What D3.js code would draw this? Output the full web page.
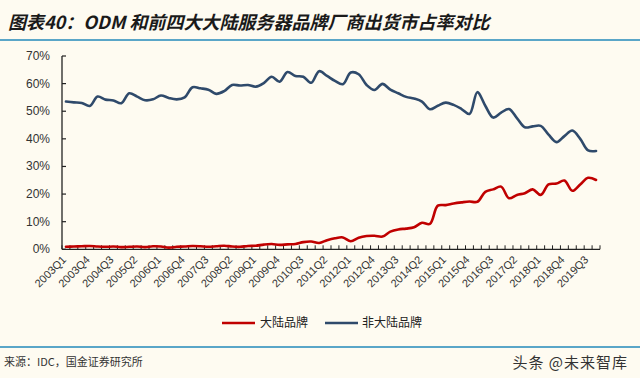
<!DOCTYPE html>
<html>
<head>
<meta charset="utf-8">
<script src="https://cdn.jsdelivr.net/npm/d3@7"></script>
<style>
body { margin: 0; background: #fefbf1; }
svg { display: block; font-family: 'Liberation Sans', Arial, sans-serif; }
</style>
</head>
<body>
<div id="chart"></div>
<script>
// quarters 2003Q1 .. 2019Q4
var quarters = []
for (var yr = 2003; yr <= 2019; yr++) for (var q = 1; q <= 4; q++) quarters.push(yr + 'Q' + q)

var mainland = [0.9,1.0,1.1,1.2,1.0,0.9,1.0,0.8,0.9,1.0,0.8,1.1,1.0,0.6,0.9,1.0,
	1.2,1.1,0.9,1.1,1.3,1.0,0.9,1.2,1.3,1.7,1.9,1.6,1.8,1.9,2.6,2.8,
	2.3,3.3,4.0,4.3,2.9,4.2,4.8,4.9,4.6,6.4,7.2,7.5,8.0,9.6,9.2,15.8,
	16.0,16.6,17.0,17.3,17.2,20.8,21.7,22.7,18.5,19.7,20.3,21.7,19.7,23.5,23.8,24.9,
	21.2,23.5,25.9,25.1]
var nonMainland = [53.5,53.2,53.0,51.9,55.3,54.2,53.9,52.9,56.5,55.3,54.0,54.3,55.7,54.8,54.3,55.0,
	58.7,58.3,57.8,56.3,57.3,59.5,59.3,59.5,58.9,60.2,62.5,60.7,64.2,62.8,62.5,60.3,
	64.5,62.8,61.0,59.8,64.0,63.4,59.5,57.7,59.9,57.8,56.5,55.2,54.6,53.5,50.7,52.0,
	53.1,52.3,50.8,49.0,56.9,52.0,47.7,49.5,50.8,47.5,44.2,44.5,44.7,41.5,38.8,41.0,
	43.0,40.0,35.8,35.6]
var yTicks = [0,10,20,30,40,50,60,70]
var seriesNames = ['大陆品牌','非大陆品牌']
var seriesColors = ['#c00000','#2f4a6b']

var W = 640, H = 378
var svg = d3.select('#chart').append('svg').attr('width', W).attr('height', H)
svg.append('rect').attr('width', W).attr('height', H).attr('fill', '#fefbf1')

// title
svg.append('text').attr('x', 8).attr('y', 29)
	.style('font-family', "'Noto Sans CJK SC', sans-serif")
	.style('font-size', '18px').style('font-weight', 'bold').style('font-style', 'italic')
	.attr('fill', '#1a1a1a')
	.text('图表40：ODM 和前四大大陆服务器品牌厂商出货市占率对比')
svg.append('line').attr('x1', 0).attr('x2', W).attr('y1', 40).attr('y2', 40)
	.attr('stroke', '#5aa6c8').attr('stroke-width', 2)

var x = d3.scaleBand().domain(quarters).range([62, 600])
var y = d3.scaleLinear().domain([0, 70]).range([249.3, 56])
var cx = d => x(d) + x.bandwidth() / 2

// y axis
var ya = svg.append('g')
ya.append('line').attr('x1', 62).attr('x2', 62).attr('y1', y(0)).attr('y2', y(70))
	.attr('stroke', '#222').attr('stroke-width', 1.3)
ya.selectAll('line.t').data(yTicks).enter().append('line').attr('class', 't')
	.attr('x1', 62).attr('x2', 66).attr('y1', d => y(d)).attr('y2', d => y(d))
	.attr('stroke', '#222').attr('stroke-width', 1.2)
ya.selectAll('text').data(yTicks).enter().append('text')
	.attr('x', 50).attr('y', d => y(d) + 4).attr('text-anchor', 'end')
	.style('font-size', '12px').attr('fill', '#333')
	.text(d => d + '%')

// x axis
var xa = svg.append('g')
xa.append('line').attr('x1', 62).attr('x2', 600).attr('y1', y(0)).attr('y2', y(0))
	.attr('stroke', '#222').attr('stroke-width', 1.3)
var edges = quarters.map(d => x(d)).concat([600])
xa.selectAll('line.t').data(edges).enter().append('line').attr('class', 't')
	.attr('x1', d => d).attr('x2', d => d).attr('y1', y(0)).attr('y2', y(0) - 4)
	.attr('stroke', '#222').attr('stroke-width', 1)
xa.selectAll('text').data(quarters.filter((d, i) => i % 3 === 0)).enter().append('text')
	.attr('text-anchor', 'end')
	.attr('transform', d => 'translate(' + (cx(d) + 1) + ',' + (y(0) + 11) + ') rotate(-45)')
	.style('font-size', '11px').attr('fill', '#333')
	.text(d => d)

// lines
var line = d3.line().x((d, i) => cx(quarters[i])).y(d => y(d)).curve(d3.curveCatmullRom)
;[mainland, nonMainland].forEach((s, si) => {
	svg.append('path').datum(s).attr('d', line)
		.attr('fill', 'none').attr('stroke', seriesColors[si]).attr('stroke-width', 2.6)
		.attr('stroke-linejoin', 'round').attr('stroke-linecap', 'round')
})

// legend
var lg = [[222, 260], [325, 362]]
seriesNames.forEach((n, i) => {
	svg.append('line').attr('x1', lg[i][0]).attr('x2', lg[i][0] + 33).attr('y1', 323).attr('y2', 323)
		.attr('stroke', seriesColors[i]).attr('stroke-width', 2.6)
	svg.append('text').attr('x', lg[i][1]).attr('y', 327)
		.style('font-family', "'Noto Sans CJK SC', sans-serif").style('font-size', '12px')
		.attr('fill', '#222').text(n)
})

// footer
svg.append('line').attr('x1', 0).attr('x2', W).attr('y1', 347).attr('y2', 347)
	.attr('stroke', '#5aa6c8').attr('stroke-width', 2)
svg.append('text').attr('x', 4).attr('y', 366)
	.style('font-family', "'Noto Sans CJK SC', sans-serif").style('font-size', '11px')
	.attr('fill', '#333').text('来源：IDC，国金证券研究所')
svg.append('text').attr('x', 628).attr('y', 368).attr('text-anchor', 'end')
	.style('font-family', "'Noto Sans CJK SC', sans-serif").style('font-size', '15px')
	.style('letter-spacing', '1px')
	.attr('fill', '#333').text('头条 @未来智库')
</script>
</body>
</html>
